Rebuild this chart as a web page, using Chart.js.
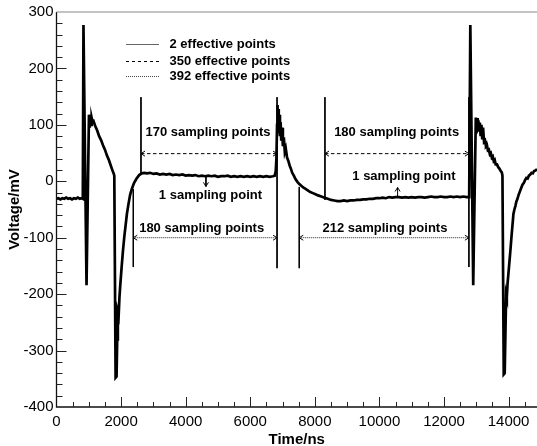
<!DOCTYPE html>
<html>
<head>
<meta charset="utf-8">
<script src="https://cdn.jsdelivr.net/npm/chart.js@4.4.1/dist/chart.umd.min.js"></script>
<style>
  html, body { margin: 0; padding: 0; background: #fff; }
  #wrap { width: 537px; height: 446px; }
</style>
</head>
<body>
<div id="wrap"><canvas id="chart"></canvas></div>
<script>
// waveform (time in ns, voltage in mV)
const timeNs = [
  0, 60, 120, 180, 240, 300, 360, 420, 480, 540, 600, 660, 720, 780, 815,
  835, 845, 930, 1005, 1030, 1050, 1070, 1090, 1120, 1150,
  1200, 1260, 1320, 1380, 1440, 1500, 1560, 1620, 1680, 1740, 1770,
  1790, 1830, 1860, 1880, 1900, 1925, 1950, 1980, 2020, 2060, 2100, 2140, 2180, 2230, 2280, 2330, 2400, 2480, 2560, 2640,
  2720, 2800, 2900, 3000, 3100, 3200, 3300, 3400, 3500, 3600, 3700, 3800, 3900, 4000, 4100, 4200, 4300, 4400, 4500,
  4600, 4700, 4800, 4900, 5000, 5100, 5200, 5300, 5400, 5500, 5600, 5700, 5800, 5900, 6000, 6100, 6200, 6300, 6400,
  6500, 6600, 6700, 6760, 6790,
  6810, 6830, 6845, 6860, 6875, 6890, 6905, 6920, 6940, 6960, 6985, 7010, 7040, 7070, 7100, 7140, 7180, 7220, 7260,
  7300, 7350, 7400, 7460, 7520, 7580, 7640, 7700, 7780, 7860, 7940, 8020, 8100, 8200, 8300, 8400, 8500, 8600, 8700,
  8800, 8900, 9000, 9100, 9200, 9300, 9400, 9500, 9600, 9700, 9800, 9900, 10000, 10100, 10200, 10300, 10400, 10500,
  10600, 10700, 10800, 10900, 11000, 11100, 11200, 11300, 11400, 11500, 11600, 11700, 11800, 11900, 12000, 12100,
  12200, 12300, 12400, 12500, 12600, 12700, 12780,
  12800, 12815, 12830, 12905, 12985, 13005, 13025, 13045, 13065, 13085, 13110, 13135, 13160, 13185, 13210, 13240,
  13270, 13300, 13330, 13360, 13390, 13420, 13450, 13480, 13510, 13540, 13570, 13600, 13640, 13680, 13720, 13760, 13790,
  13810, 13850, 13880, 13905, 13925, 13945, 13970, 14000, 14030, 14060, 14090, 14120, 14150, 14180, 14210, 14240,
  14270, 14310, 14350, 14390, 14430, 14470, 14510, 14550, 14590, 14630, 14670, 14710, 14750, 14790, 14830, 14870, 14880
];
const voltageMv = [
  -31, -30, -32, -30, -31, -29, -31, -30, -32, -30, -31, -29, -31, -30, -31,
  277, 277, -184, 118, 95, 114, 100, 112, 104, 106,
  98, 90, 80, 73, 64, 56, 46, 38, 28, 18, 14,
  10, -348, -346, -280, -232, -238, -205, -180, -150, -122, -98, -78, -58, -40, -24, -14, -3, 5, 11, 14,
  15, 14, 15, 13, 14, 12, 13, 12, 13, 11, 12, 11, 12, 10, 11, 10, 11, 9, 10,
  9, 10, 9, 10, 8, 9, 9, 10, 8, 9, 8, 9, 8, 9, 8, 9, 8, 9, 8,
  9, 8, 9, 10, 18,
  40, 100, 135, 95, 128, 85, 118, 80, 105, 72, 95, 62, 78, 52, 58, 42, 36, 28, 22,
  15, 10, 4, -1, -5, -8, -11, -13, -16, -19, -21, -23, -25, -27, -29, -31, -33, -34, -35,
  -35, -34, -35, -34, -34, -33, -33, -32, -32, -31, -31, -30, -30, -29, -30, -28, -29, -28,
  -28, -29, -28, -29, -28, -29, -28, -28, -29, -28, -27, -28, -28, -27, -28, -28,
  -27, -28, -27, -28, -27, -28, -28,
  -28, 277, 277, -184, 113, 85, 112, 88, 108, 92, 104, 80, 100, 74, 95, 70,
  72, 62, 64, 55, 56, 48, 50, 42, 44, 36, 38, 30, 30, 25, 22, 18, 16,
  10, -342, -340, -260, -200, -205, -180, -160, -140, -120, -98, -78, -58, -50, -44, -36,
  -32, -24, -18, -12, -6, -3, 2, 6, 5, 10, 12, 15, 14, 18, 19, 21, 22
];

// axis ranges and ticks
const xMin = 0, xMax = 14880, xMinorStep = 500;
const xTicks = [0, 2000, 4000, 6000, 8000, 10000, 12000, 14000];
const yMin = -400, yMax = 300, yMinorStep = 20;
const yTicks = [-400, -300, -200, -100, 0, 100, 200, 300];

// legend
const legendLabels = ['2 effective points', '350 effective points', '392 effective points'];

// thin vertical marker lines: time, from voltage, to voltage
const markerTimes = [2616, 2378, 6830, 8313, 7517, 12771];
const markerFrom = [149, -14, 149, 149, -10, 149];
const markerTo = [14, -152, -154, -33, -154, -152];

// double headed span arrows
const dashedStart = [2616, 8313];
const dashedEnd = [6830, 12771];
const dashedLevel = 49;
const dottedStart = [2378, 7517];
const dottedEnd = [6830, 12771];
const dottedLevel = -100;

// "1 sampling point" pointers
const pointerTimes = [4628, 10563];
const pointerFrom = [9, -28];
const pointerTo = [-9, -11];

// text notes
const noteTexts = ['170 sampling points', '180 sampling points', '1 sampling point',
                   '180 sampling points', '1 sampling point', '212 sampling points'];
const noteTimes = [4690, 10533, 4768, 4495, 10759, 10170];
const noteVolts = [86, 86, -25, -84, 8, -83];

const FONT = "'Liberation Sans', Arial, sans-serif";

function gapped(xs, a, b) {
  const pts = [];
  xs.forEach((t, i) => {
    pts.push({ x: t, y: a[i] }, { x: b.x ? b.x[i] : t, y: b.y[i] }, { x: t, y: null });
  });
  return pts;
}

const traceData = timeNs.map((t, i) => ({ x: t, y: voltageMv[i] }));
const markerData = gapped(markerTimes, markerFrom, { y: markerTo });
const dashedData = gapped(dashedStart, dashedStart.map(() => dashedLevel), { x: dashedEnd, y: dashedEnd.map(() => dashedLevel) });
const dottedData = gapped(dottedStart, dottedStart.map(() => dottedLevel), { x: dottedEnd, y: dottedEnd.map(() => dottedLevel) });
const pointerData = gapped(pointerTimes, pointerFrom, { y: pointerTo });

function chevron(ctx, x, y, dx, dy) {
  // open arrow head with tip at (x, y), pointing along (dx, dy)
  const s = 4, w = 2.5;
  ctx.moveTo(x - dx * s - dy * w, y - dy * s - dx * w);
  ctx.lineTo(x, y);
  ctx.lineTo(x - dx * s + dy * w, y - dy * s + dx * w);
}

const decorations = {
  id: 'decorations',
  afterDatasetsDraw(chart) {
    const { ctx, chartArea: a, scales: { x, y } } = chart;
    ctx.save();

    // frame
    ctx.lineWidth = 1.3;
    ctx.strokeStyle = '#111';
    ctx.beginPath();
    ctx.moveTo(a.left, a.top);
    ctx.lineTo(a.left, a.bottom);
    ctx.lineTo(a.right, a.bottom);
    ctx.stroke();
    ctx.strokeStyle = '#888';
    ctx.lineWidth = 1.2;
    ctx.beginPath();
    ctx.moveTo(a.left, a.top);
    ctx.lineTo(a.right, a.top);
    ctx.stroke();

    // inward ticks, long at labelled values
    ctx.strokeStyle = '#222';
    ctx.lineWidth = 1;
    ctx.beginPath();
    for (let v = xMin + xMinorStep; v <= xMax; v += xMinorStep) {
      const px = Math.round(x.getPixelForValue(v)) + 0.5;
      const len = xTicks.includes(v) ? 10 : 5;
      ctx.moveTo(px, a.bottom);
      ctx.lineTo(px, a.bottom - len);
    }
    for (let v = yMin + yMinorStep; v < yMax; v += yMinorStep) {
      const py = Math.round(y.getPixelForValue(v)) + 0.5;
      const len = yTicks.includes(v) ? 10 : 6;
      ctx.moveTo(a.left, py);
      ctx.lineTo(a.left + len, py);
    }
    ctx.stroke();

    // arrow heads
    ctx.strokeStyle = '#000';
    ctx.lineWidth = 1;
    ctx.beginPath();
    dashedStart.forEach((t, i) => {
      const py = y.getPixelForValue(dashedLevel);
      chevron(ctx, x.getPixelForValue(t), py, -1, 0);
      chevron(ctx, x.getPixelForValue(dashedEnd[i]), py, 1, 0);
    });
    dottedStart.forEach((t, i) => {
      const py = y.getPixelForValue(dottedLevel);
      chevron(ctx, x.getPixelForValue(t), py, -1, 0);
      chevron(ctx, x.getPixelForValue(dottedEnd[i]), py, 1, 0);
    });
    pointerTimes.forEach((t, i) => {
      const dir = pointerTo[i] < pointerFrom[i] ? 1 : -1;
      chevron(ctx, x.getPixelForValue(t), y.getPixelForValue(pointerTo[i]), 0, dir);
    });
    ctx.stroke();

    // notes
    ctx.fillStyle = '#000';
    ctx.font = 'bold 13px ' + FONT;
    ctx.textAlign = 'center';
    ctx.textBaseline = 'middle';
    noteTexts.forEach((s, i) => {
      ctx.fillText(s, x.getPixelForValue(noteTimes[i]), y.getPixelForValue(noteVolts[i]));
    });

    // legend
    const rows = [44.5, 61.5, 76.5];
    const dashes = [[], [3, 3], [1, 1]];
    const colors = ['#666', '#000', '#444'];
    rows.forEach((ry, i) => {
      ctx.beginPath();
      ctx.setLineDash(dashes[i]);
      ctx.strokeStyle = colors[i];
      ctx.lineWidth = 1;
      ctx.moveTo(126, ry);
      ctx.lineTo(159, ry);
      ctx.stroke();
      ctx.setLineDash([]);
      ctx.textAlign = 'left';
      ctx.fillText(legendLabels[i], 169.5, ry);
    });
    ctx.restore();
  }
};

new Chart(document.getElementById('chart'), {
  type: 'line',
  data: {
    datasets: [
      { data: traceData, borderColor: '#000', borderWidth: 2.7, pointRadius: 0, tension: 0 },
      { data: markerData, borderColor: '#000', borderWidth: 1, pointRadius: 0, spanGaps: false },
      { data: dashedData, borderColor: '#000', borderWidth: 1, borderDash: [3.5, 2.5], pointRadius: 0, spanGaps: false },
      { data: dottedData, borderColor: '#222', borderWidth: 1, borderDash: [1, 1], pointRadius: 0, spanGaps: false },
      { data: pointerData, borderColor: '#000', borderWidth: 1, pointRadius: 0, spanGaps: false }
    ]
  },
  options: {
    responsive: true,
    maintainAspectRatio: false,
    animation: false,
    events: [],
    layout: { padding: { top: 12, right: 0, left: 0, bottom: 0 } },
    plugins: { legend: { display: false }, tooltip: { enabled: false } },
    scales: {
      x: {
        type: 'linear', min: xMin, max: xMax,
        grid: { display: false, drawTicks: false },
        border: { display: false },
        ticks: {
          color: '#000', padding: 6, maxRotation: 0, autoSkip: false,
          font: { family: FONT, size: 15 },
          callback: v => String(v)
        },
        afterBuildTicks: s => { s.ticks = xTicks.map(v => ({ value: v })); },
        afterFit: s => { s.height = 39; },
        title: { display: true, text: 'Time/ns', color: '#000',
                 font: { family: FONT, size: 15, weight: 'bold' }, padding: { top: 0, bottom: -3 } }
      },
      y: {
        type: 'linear', min: yMin, max: yMax,
        grid: { display: false, drawTicks: false },
        border: { display: false },
        ticks: {
          color: '#000', padding: 3,
          font: { family: FONT, size: 15 },
          callback: v => String(v)
        },
        afterBuildTicks: s => { s.ticks = yTicks.map(v => ({ value: v })); },
        afterFit: s => { s.width = 56.5; },
        title: { display: true, text: 'Voltage/mV', color: '#000',
                 font: { family: FONT, size: 15, weight: 'bold' }, padding: { top: 6, bottom: 0 } }
      }
    }
  },
  plugins: [decorations]
});
</script>
</body>
</html>
